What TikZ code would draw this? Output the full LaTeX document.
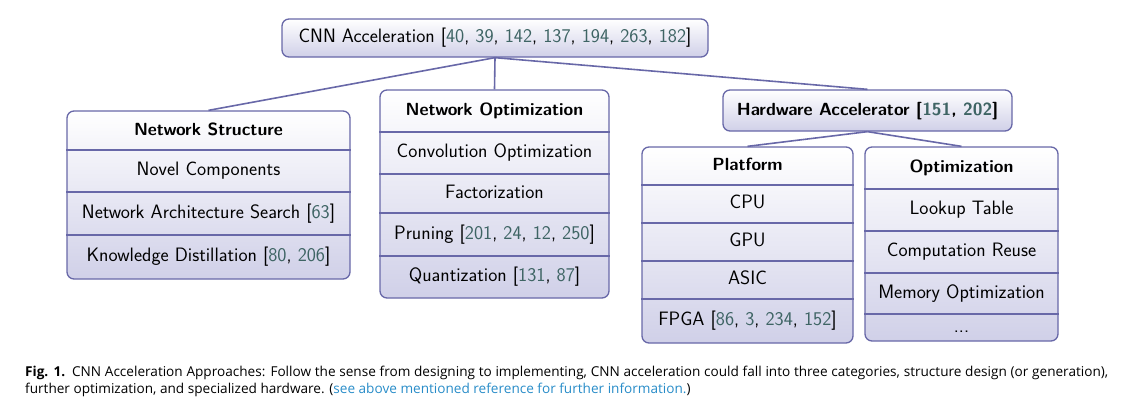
\documentclass[tikz,border=0pt]{standalone}
\usepackage{fontspec}
\newfontfamily\capfont{Open Sans}
\definecolor{edge}{RGB}{104,104,168}
\definecolor{boxbot}{RGB}{208,208,232}
\definecolor{citec}{RGB}{62,100,100}
\definecolor{linkc}{RGB}{40,140,200}
\newcommand{\cn}[1]{{\color{citec}#1}}

\begin{document}
\begin{tikzpicture}[x=1pt,y=-1pt,
	box/.style={draw=edge, line width=1.3pt, rounded corners=7pt, top color=white, bottom color=boxbot, inner sep=0pt},
	sep/.style={draw=edge, line width=1.3pt},
	link/.style={draw=edge, line width=1.6pt},
	item/.style={font=\fontsize{19.4}{23}\selectfont\sffamily, inner sep=0pt, text height=13.6pt, text depth=4pt},
	head/.style={item, font=\fontsize{17.6}{21}\selectfont\sffamily\bfseries}]
	\useasboundingbox (0,0) rectangle (1128,405);

	%% root
	\node[box, item, minimum width=426, minimum height=38] (root) at (495,38)
		{CNN Acceleration [\cn{40}, \cn{39}, \cn{142}, \cn{137}, \cn{194}, \cn{263}, \cn{182}]};

	%% network structure
	\node[box, minimum width=283, minimum height=168] (ns) at (208.5,195) {};
	\foreach \y in {150,192,235} \draw[sep] (ns.west |- 0,\y) -- (ns.east |- 0,\y);
	\node[head] (nsh) at (208.5,130.5) {Network Structure};
	\node[item] (nsa) at (208.5,171) {Novel Components};
	\node[item] (nsb) at (208.5,213.5) {Network Architecture Search [\cn{63}]};
	\node[item] (nsc) at (208.5,257) {Knowledge Distillation [\cn{80}, \cn{206}]};

	%% network optimization
	\node[box, minimum width=229, minimum height=208] (no) at (494.5,194) {};
	\foreach \y in {132,174,213,256} \draw[sep] (no.west |- 0,\y) -- (no.east |- 0,\y);
	\node[head] (noh) at (494.5,111) {Network Optimization};
	\node[item] (noa) at (494.5,153) {Convolution Optimization};
	\node[item] (nob) at (494.5,193.5) {Factorization};
	\node[item] (noc) at (494.5,234.5) {Pruning [\cn{201}, \cn{24}, \cn{12}, \cn{250}]};
	\node[item] (nod) at (494.5,277) {Quantization [\cn{131}, \cn{87}]};

	%% hardware
	\node[box, head, minimum width=289, minimum height=41] (hw) at (867.5,110.5)
		{Hardware Accelerator [\cn{151}, \cn{202}]};

	\node[box, minimum width=211, minimum height=196] (pf) at (747.5,245) {};
	\foreach \y in {185,223,261,299} \draw[sep] (pf.west |- 0,\y) -- (pf.east |- 0,\y);
	\node[head] (pfh) at (747.5,166) {Platform};
	\node[item] (pfa) at (747.5,204) {CPU};
	\node[item] (pfb) at (747.5,242) {GPU};
	\node[item] (pfc) at (747.5,280) {ASIC};
	\node[item] (pfd) at (747.5,321) {FPGA [\cn{86}, \cn{3}, \cn{234}, \cn{152}]};

	\node[box, minimum width=193, minimum height=194] (op) at (961.5,244) {};
	\foreach \y in {189,231,273,314} \draw[sep] (op.west |- 0,\y) -- (op.east |- 0,\y);
	\node[head] (oph) at (961.5,168) {Optimization};
	\node[item] (opa) at (961.5,210) {Lookup Table};
	\node[item] (opb) at (961.5,252) {Computation Reuse};
	\node[item] (opc) at (961.5,293.5) {Memory Optimization};
	\node[item] (opd) at (961.5,327.5) {...};

	%% connectors
	\draw[link] (root.south) -- (ns.north);
	\draw[link] (root.south) -- (no.north);
	\draw[link] (root.south) -- (hw.north);
	\draw[link] (hw.south) -- (pf.north);
	\draw[link] (hw.south) -- (op.north);

	%% caption
	\node[anchor=base west, inner sep=0pt, text width=1083pt, align=justify,
		font=\capfont\fontsize{13.6}{17}\selectfont] (cap) at (25,376)
		{\textbf{Fig. 1.}\enspace CNN Acceleration Approaches: Follow the sense from designing to implementing, CNN acceleration could fall into three categories, structure design (or generation),\linebreak
		further optimization, and specialized hardware. ({\color{linkc}see above mentioned reference for further information.})};
\end{tikzpicture}
\end{document}
